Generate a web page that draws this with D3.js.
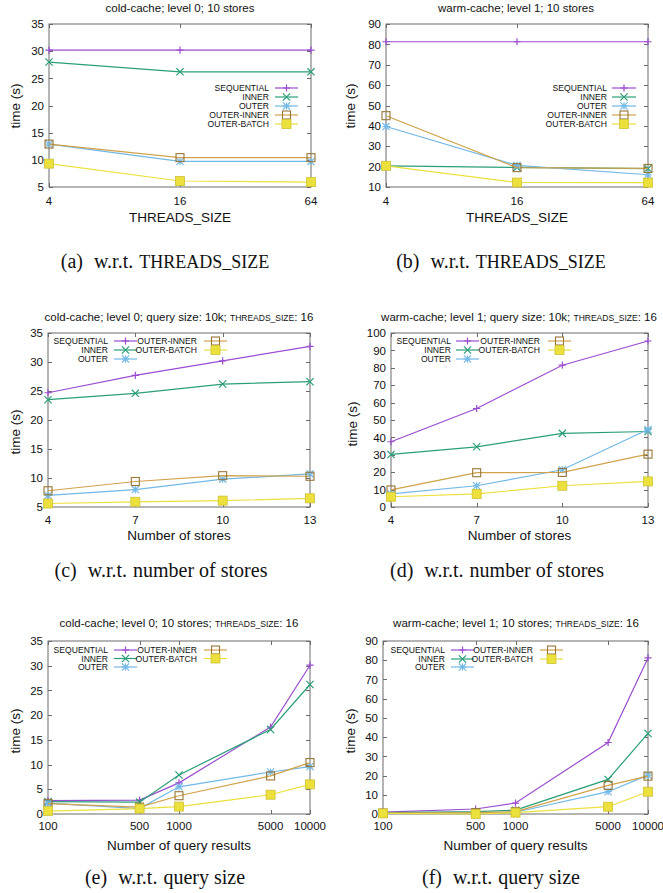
<!DOCTYPE html>
<html>
<head>
<meta charset="utf-8">
<script src="https://cdn.jsdelivr.net/npm/d3@7"></script>
<style>
  body { margin: 0; background: #fff; }
  svg text { font-family: "Liberation Sans", Arial, sans-serif; fill: #111; }
</style>
</head>
<body>
<script>
const width = 663;
const height = 893;

// series + x categories
const seriesNames = ["SEQUENTIAL", "INNER", "OUTER", "OUTER-INNER", "OUTER-BATCH"];
const seriesColors = ["#9a4dd0", "#2a9e78", "#72b8e6", "#d2a24a", "#ece03c"];
const seriesMarkers = ["plus", "cross", "star", "square", "fsquare"];

const threadSizes = [4, 16, 64];
const storeCounts = [4, 7, 10, 13];
const querySizes = [100, 500, 1000, 5000, 10000];

// (a) cold-cache; level 0; 10 stores  -- rows follow seriesNames
const coldByThreads = [
  [30.2, 30.2, 30.2],
  [28.0, 26.2, 26.2],
  [12.9, 9.7, 9.7],
  [12.9, 10.4, 10.4],
  [9.3, 6.1, 5.9]
];
// (b) warm-cache; level 1; 10 stores
const warmByThreads = [
  [81.3, 81.3, 81.3],
  [20.4, 19.6, 19.0],
  [39.7, 20.6, 16.0],
  [45.0, 19.5, 19.1],
  [20.4, 12.2, 12.1]
];
// (c) cold-cache; number of stores
const coldByStores = [
  [24.7, 27.7, 30.2, 32.7],
  [23.5, 24.6, 26.2, 26.6],
  [7.0, 8.0, 9.8, 10.7],
  [7.8, 9.4, 10.4, 10.3],
  [5.6, 5.9, 6.1, 6.5]
];
// (d) warm-cache; number of stores
const warmByStores = [
  [37.5, 56.6, 81.5, 95.4],
  [30.2, 34.6, 42.3, 43.4],
  [7.5, 12.2, 21.4, 44.5],
  [9.8, 19.7, 19.9, 30.4],
  [5.9, 7.5, 12.2, 14.7]
];
// (e) cold-cache; query size
const coldByQuery = [
  [2.7, 2.8, 6.3, 17.6, 30.1],
  [2.5, 2.4, 7.9, 17.1, 26.2],
  [2.2, 1.1, 5.5, 8.5, 9.6],
  [2.1, 1.4, 3.7, 7.7, 10.4],
  [0.6, 1.1, 1.5, 3.9, 6.0]
];
// (f) warm-cache; query size
const warmByQuery = [
  [1.0, 2.6, 5.7, 37.2, 81.2],
  [0.7, 1.2, 2.0, 18.0, 41.9],
  [0.3, 0.3, 0.9, 11.6, 20.2],
  [0.5, 0.7, 1.2, 14.9, 19.7],
  [0.3, 0.0, 0.7, 3.8, 11.6]
];

const yTicks5to35 = [5, 10, 15, 20, 25, 30, 35];
const yTicks10to90 = [10, 20, 30, 40, 50, 60, 70, 80, 90];
const yTicks0to35 = [0, 5, 10, 15, 20, 25, 30, 35];
const yTicks0to100 = [0, 10, 20, 30, 40, 50, 60, 70, 80, 90, 100];
const yTicks0to90 = [0, 10, 20, 30, 40, 50, 60, 70, 80, 90];

const panels = [
  { title: [["cold-cache; level 0; 10 stores"]], titleX: 180, titleY: 12,
    xs: threadSizes, xType: "log2", ys: coldByThreads, yTicks: yTicks5to35,
    box: [49, 311, 24, 187], xLabel: "THREADS_SIZE", xLabelY: 222, yLabelX: 15, yLabelY: 106,
    tickLabelY: 205, legend: { cols: 1, textRight: [269], line: [[275, 298]], rows: [88, 97, 106, 115, 124] },
    caption: ["(a)", "w.r.t.", "THREADS_SIZE"], capX: 165, capY: 268 },
  { title: [["warm-cache; level 1; 10 stores"]], titleX: 516, titleY: 12,
    xs: threadSizes, xType: "log2", ys: warmByThreads, yTicks: yTicks10to90,
    box: [386, 648, 24, 187], xLabel: "THREADS_SIZE", xLabelY: 222, yLabelX: 350, yLabelY: 106,
    tickLabelY: 205, legend: { cols: 1, textRight: [607], line: [[612, 636]], rows: [88, 97, 106, 115, 124] },
    caption: ["(b)", "w.r.t.", "THREADS_SIZE"], capX: 501, capY: 268 },
  { title: [["cold-cache; level 0; query size: 10k; "], ["THREADS_SIZE", true], [": 16"]], titleX: 179, titleY: 321,
    xs: storeCounts, xType: "linear", ys: coldByStores, yTicks: yTicks5to35,
    box: [48, 310, 333, 507], xLabel: "Number of stores", xLabelY: 540, yLabelX: 15, yLabelY: 432,
    tickLabelY: 524, legend: { cols: 2, textRight: [108, 197], line: [[114, 137], [204, 227]], rows: [341, 350, 359] },
    caption: ["(c)", "w.r.t.", "number of stores"], capX: 161, capY: 577 },
  { title: [["warm-cache; level 1; query size: 10k; "], ["THREADS_SIZE", true], [": 16"]], titleX: 519, titleY: 321,
    xs: storeCounts, xType: "linear", ys: warmByStores, yTicks: yTicks0to100,
    box: [391, 648, 333, 507], xLabel: "Number of stores", xLabelY: 540, yLabelX: 352, yLabelY: 424,
    tickLabelY: 524, legend: { cols: 2, textRight: [451, 540], line: [[456, 479], [548, 571]], rows: [341, 350, 359] },
    caption: ["(d)", "w.r.t.", "number of stores"], capX: 497, capY: 577 },
  { title: [["cold-cache; level 0; 10 stores; "], ["THREADS_SIZE", true], [": 16"]], titleX: 179, titleY: 627,
    xs: querySizes, xType: "log10", ys: coldByQuery, yTicks: yTicks0to35,
    box: [48, 310, 641, 814], xLabel: "Number of query results", xLabelY: 850, yLabelX: 15, yLabelY: 731,
    tickLabelY: 830, legend: { cols: 2, textRight: [108, 197], line: [[114, 137], [204, 227]], rows: [650, 658.5, 667] },
    caption: ["(e)", "w.r.t.", "query size"], capX: 165, capY: 884 },
  { title: [["warm-cache; level 1; 10 stores; "], ["THREADS_SIZE", true], [": 16"]], titleX: 516, titleY: 627,
    xs: querySizes, xType: "log10", ys: warmByQuery, yTicks: yTicks0to90,
    box: [383, 648, 641, 814], xLabel: "Number of query results", xLabelY: 850, yLabelX: 350, yLabelY: 731,
    tickLabelY: 830, legend: { cols: 2, textRight: [445, 533], line: [[451, 474], [540, 563]], rows: [650, 659, 667] },
    caption: ["(f)", "w.r.t.", "query size"], capX: 501, capY: 884 }
];

const svg = d3.select("body").append("svg")
  .attr("width", width)
  .attr("height", height);

const frameColor = "#6a6a6a";

function drawMarker(g, kind, x, y, color) {
  const s = 3.6;
  const dark = d3.color(color).darker(0.9);
  if (kind === "plus" || kind === "star") {
    g.append("path").attr("d", `M${x - s},${y}H${x + s}M${x},${y - s}V${y + s}`)
      .attr("stroke", color).attr("stroke-width", 1.2).attr("fill", "none");
  }
  if (kind === "cross" || kind === "star") {
    g.append("path").attr("d", `M${x - s},${y - s}L${x + s},${y + s}M${x - s},${y + s}L${x + s},${y - s}`)
      .attr("stroke", color).attr("stroke-width", 1.2).attr("fill", "none");
  }
  if (kind === "square") {
    g.append("rect").attr("x", x - 4).attr("y", y - 4).attr("width", 8).attr("height", 8)
      .attr("fill", "none").attr("stroke", dark).attr("stroke-width", 1.1);
  }
  if (kind === "fsquare") {
    g.append("rect").attr("x", x - 4.5).attr("y", y - 4.5).attr("width", 9).attr("height", 9)
      .attr("fill", color).attr("stroke", d3.color(color).darker(0.4)).attr("stroke-width", 0.8);
  }
}

function addParts(sel, parts, big, small) {
  parts.forEach(([t, isSmall]) => {
    sel.append("tspan").attr("font-size", isSmall ? small : big).text(t);
  });
}

panels.forEach(p => {
  const [left, right, top, bottom] = p.box;
  const g = svg.append("g");

  let x;
  if (p.xType === "log2") x = d3.scaleLog().base(2).domain(d3.extent(p.xs)).range([left, right]);
  else if (p.xType === "log10") x = d3.scaleLog().domain(d3.extent(p.xs)).range([left, right]);
  else x = d3.scaleLinear().domain(d3.extent(p.xs)).range([left, right]);

  const y = d3.scaleLinear().domain(d3.extent(p.yTicks)).range([bottom, top]);

  // frame
  g.append("rect").attr("x", left).attr("y", top)
    .attr("width", right - left).attr("height", bottom - top)
    .attr("fill", "none").attr("stroke", frameColor).attr("stroke-width", 1);

  // y ticks (mirrored, inward)
  p.yTicks.forEach(v => {
    const yy = Math.round(y(v)) + 0.5;
    g.append("path").attr("d", `M${left},${yy}h4M${right},${yy}h-4`)
      .attr("stroke", frameColor).attr("stroke-width", 1);
    g.append("text").attr("x", left - 5).attr("y", y(v) + 4.2)
      .attr("text-anchor", "end").attr("font-size", 11.5).text(v);
  });
  // x ticks
  p.xs.forEach(v => {
    const xx = Math.round(x(v)) + 0.5;
    g.append("path").attr("d", `M${xx},${bottom}v-4M${xx},${top}v4`)
      .attr("stroke", frameColor).attr("stroke-width", 1);
    g.append("text").attr("x", x(v)).attr("y", p.tickLabelY)
      .attr("text-anchor", "middle").attr("font-size", 11.5).text(v);
  });

  // title
  const t = g.append("text").attr("x", p.titleX).attr("y", p.titleY).attr("text-anchor", "middle");
  addParts(t, p.title, 11.5, 8.5);

  // axis labels
  g.append("text").attr("x", (left + right) / 2).attr("y", p.xLabelY)
    .attr("text-anchor", "middle").attr("font-size", 13.5).text(p.xLabel);
  g.append("text").attr("transform", `translate(${p.yLabelX},${p.yLabelY}) rotate(-90)`)
    .attr("text-anchor", "middle").attr("dy", "0.35em").attr("font-size", 13.5).text("time (s)");

  // series lines + markers
  const line = d3.line().x((d, i) => x(p.xs[i])).y(d => y(d));
  seriesNames.forEach((name, si) => {
    const sg = g.append("g");
    sg.append("path").attr("d", line(p.ys[si]))
      .attr("fill", "none").attr("stroke", seriesColors[si]).attr("stroke-width", 1.2);
    p.ys[si].forEach((v, i) => drawMarker(sg, seriesMarkers[si], x(p.xs[i]), y(v), seriesColors[si]));
  });

  // legend
  const L = p.legend;
  const perCol = L.cols === 1 ? 5 : 3;
  seriesNames.forEach((name, si) => {
    const col = Math.floor(si / perCol);
    const row = si % perCol;
    const ly = L.rows[row];
    g.append("text").attr("x", L.textRight[col]).attr("y", ly + 3)
      .attr("text-anchor", "end").attr("font-size", 8.6).text(name);
    const [x0, x1] = L.line[col];
    g.append("path").attr("d", `M${x0},${ly}H${x1}`)
      .attr("stroke", seriesColors[si]).attr("stroke-width", 1.2);
    drawMarker(g, seriesMarkers[si], (x0 + x1) / 2, ly, seriesColors[si]);
  });

  // caption: "(x)", gap, "w.r.t.", gap, subject
  const c = svg.append("text").attr("x", p.capX).attr("y", p.capY)
    .attr("text-anchor", "middle").attr("font-size", 20)
    .style("font-family", "'Liberation Serif', 'Times New Roman', serif");
  c.append("tspan").text(p.caption[0]);
  c.append("tspan").attr("dx", 11).text(p.caption[1]);
  c.append("tspan").attr("dx", 6)
    .attr("font-size", p.caption[2] === "THREADS_SIZE" ? 18 : 20)
    .text(p.caption[2]);
});
</script>
</body>
</html>
